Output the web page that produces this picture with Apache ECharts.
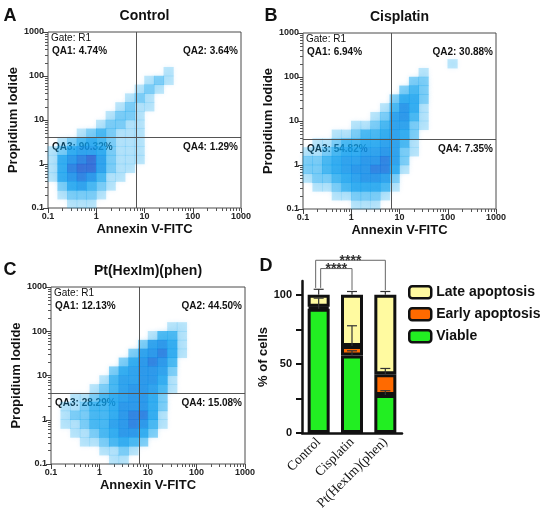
<!DOCTYPE html>
<html>
<head>
<meta charset="utf-8">
<script src="https://cdn.jsdelivr.net/npm/echarts@6/dist/echarts.min.js"></script>
<style>
html, body { margin: 0; padding: 0; background: #fff; }
#main { width: 550px; height: 514px; }
</style>
</head>
<body>
<div id="main"></div>
<script>
// ---- panels A-C : annexin V / PI dot plots ----
var panelTitles = ['Control', 'Cisplatin', 'Pt(HexIm)(phen)'];
var panelLetters = ['A', 'B', 'C'];
var qaControl = [4.74, 3.64, 90.32, 1.29];
var qaCisplatin = [6.94, 30.88, 54.82, 7.35];
var qaPt = [12.13, 44.50, 28.29, 15.08];
var gateX = [6.8, 6.7, 6.6];
var gateY = [4.1, 3.8, 4.0];
var logTicks = [0.1, 1, 10, 100, 1000];

// event density, 0.2-decade cells
// row 0 = PI 10^2.8..10^3, column 0 = annexin 10^-1..10^-0.8, level 0-9
var densityControl = [
  '00000000000000000000',
  '00000000000000000000',
  '00000000000000000000',
  '00000000000000000000',
  '00000000000010000000',
  '00000000001210000000',
  '00000000012100000000',
  '00000000121000000000',
  '00000001211000000000',
  '00000012210000000000',
  '00000122110000000000',
  '00012321110000000000',
  '01234321110000000000',
  '12455421110000000000',
  '14678521110000000000',
  '14788521100000000000',
  '14676311000000000000',
  '02453210000000000000',
  '01222100000000000000',
  '00111000000000000000'
];
var densityCisplatin = [
  '00000000000000000000',
  '00000000000000000000',
  '00000000000000000000',
  '00000000000000010000',
  '00000000000010000000',
  '00000000000220000000',
  '00000000002320000000',
  '00000000024420000000',
  '00000000136410000000',
  '00000001256310000000',
  '00000112355210000000',
  '00011233454200000000',
  '01123344553100000000',
  '11234455652100000000',
  '22345566752000000000',
  '22345667741000000000',
  '12234566520000000000',
  '01123444310000000000',
  '00011222100000000000',
  '00000111000000000000'
];
var densityPt = [
  '00000000000000000000',
  '00000000000000000000',
  '00000000000000000000',
  '00000000000000000000',
  '00000000000011000000',
  '00000000001331000000',
  '00000000025641000000',
  '00000000256741000000',
  '00000002467630000000',
  '00000024566520000000',
  '00000135566410000000',
  '00001235665310000000',
  '00112345664200000000',
  '01123346664200000000',
  '01223346774100000000',
  '01123356763100000000',
  '00112346642000000000',
  '00011234320000000000',
  '00000112100000000000',
  '00000011000000000000'
];

// ---- panel D : stacked percentages ----
var groups = ['Control', 'Cisplatin', 'Pt(HexIm)(phen)'];
var viable = [90, 56, 27.5];
var early = [1.3, 7, 15];
var late = [8.7, 37, 57.5];
var viableErr = [7.6, 3.5, 3.1];
var earlyErr = [0, 14.6, 4.2];
var lateErr = [4, 2.4, 2.4];
var barTicks = [0, 25, 50, 75, 100];
var barLabels = [0, 50, 100];
var sigPairs = [[0, 2], [0, 1]];
var sigLevel = [125, 119];

var chart = echarts.init(document.getElementById('main'));

var SANS = '"Liberation Sans", Arial, sans-serif';
var SERIF = '"Liberation Serif", "Times New Roman", serif';
var shade = [null, 'rgba(20,170,240,0.32)', 'rgba(20,168,240,0.6)', 'rgba(16,162,238,0.85)',
  '#14a0ee', '#1094ea', '#0d87e6', '#126edc', '#1a55cf', '#2a3cc0'];

var boxes = [
  {left: 48, top: 32, width: 193, height: 176},
  {left: 303, top: 33, width: 193, height: 176},
  {left: 51, top: 287, width: 194, height: 177}
];
var barBox = {left: 302, top: 281, width: 100, height: 152};
var densities = [densityControl, densityCisplatin, densityPt];
var qaValues = [qaControl, qaCisplatin, qaPt];

var minorTicks = [];
[0.1, 1, 10, 100].forEach(function (d) {
  for (var m = 2; m <= 9; m++) minorTicks.push(d * m);
});

function cells(rows) {
  var out = [];
  rows.forEach(function (row, i) {
    var r = rows.length - 1 - i;
    for (var c = 0; c < row.length; c++) {
      var lv = +row[c];
      if (lv > 0) out.push([Math.pow(10, -0.9 + 0.2 * c), Math.pow(10, -0.9 + 0.2 * r), lv]);
    }
  });
  return out;
}

var grids = [], xAxes = [], yAxes = [], series = [];

boxes.forEach(function (b, k) {
  grids.push({left: b.left, top: b.top, width: b.width, height: b.height,
    show: true, borderColor: '#4a4a4a', borderWidth: 1, backgroundColor: 'transparent'});
});
boxes.forEach(function (b, k) {
  xAxes.push({
    type: 'log', logBase: 10, min: 0.1, max: 1000, gridIndex: k, position: 'bottom',
    name: 'Annexin V-FITC', nameLocation: 'middle', nameGap: 15,
    nameTextStyle: {fontFamily: SANS, fontWeight: 'bold', fontSize: 13, color: '#111'},
    axisLine: {show: false, onZero: false},
    axisTick: {length: 5, customValues: logTicks, lineStyle: {color: '#444'}},
    axisLabel: {customValues: logTicks, margin: 4, fontFamily: SANS, fontWeight: 'bold', fontSize: 9, color: '#222',
      formatter: function (v) { return String(+v.toPrecision(3)); }},
    splitLine: {show: false}
  });
  yAxes.push({
    type: 'log', logBase: 10, min: 0.1, max: 1000, gridIndex: k, position: 'left',
    name: 'Propidium Iodide', nameLocation: 'middle', nameGap: 25,
    nameTextStyle: {fontFamily: SANS, fontWeight: 'bold', fontSize: 13, color: '#111'},
    axisLine: {show: false, onZero: false},
    axisTick: {length: 5, customValues: logTicks, lineStyle: {color: '#444'}},
    axisLabel: {customValues: logTicks, margin: 4, fontFamily: SANS, fontWeight: 'bold', fontSize: 9, color: '#222',
      formatter: function (v) { return String(+v.toPrecision(3)); }},
    splitLine: {show: false}
  });
});
boxes.forEach(function (b, k) {
  xAxes.push({
    type: 'log', logBase: 10, min: 0.1, max: 1000, gridIndex: k, position: 'bottom',
    axisLine: {show: false, onZero: false},
    axisTick: {length: 3, customValues: minorTicks, lineStyle: {color: '#555'}},
    axisLabel: {show: false}, splitLine: {show: false}
  });
  yAxes.push({
    type: 'log', logBase: 10, min: 0.1, max: 1000, gridIndex: k, position: 'left',
    axisLine: {show: false, onZero: false},
    axisTick: {length: 3, customValues: minorTicks, lineStyle: {color: '#555'}},
    axisLabel: {show: false}, splitLine: {show: false}
  });
});

boxes.forEach(function (b, k) {
  series.push({
    type: 'scatter', xAxisIndex: k, yAxisIndex: k,
    data: cells(densities[k]),
    symbol: 'rect',
    symbolSize: [b.width / 20 + 0.5, b.height / 20 + 0.5],
    itemStyle: {
      color: function (p) { return shade[p.data[2]]; },
      shadowBlur: 5, shadowColor: 'rgba(20,160,240,0.35)'
    },
    silent: true, animation: false,
    markLine: {
      silent: true, symbol: 'none', animation: false,
      label: {show: false},
      lineStyle: {color: '#555', width: 1, type: 'solid'},
      data: [{xAxis: gateX[k]}, {yAxis: gateY[k]}]
    }
  });
});

// panel D grid and axes
grids.push({left: barBox.left, top: barBox.top, width: barBox.width, height: barBox.height});
xAxes.push({
  type: 'category', gridIndex: 3, data: groups,
  axisLine: {lineStyle: {color: '#111', width: 2.5}},
  axisTick: {show: false},
  axisLabel: {rotate: 45, margin: 7, fontFamily: SERIF, fontSize: 13.5, color: '#111', interval: 0}
});
yAxes.push({
  type: 'value', gridIndex: 3, min: 0, max: 110,
  name: '% of cells', nameLocation: 'middle', nameGap: 26,
  nameTextStyle: {fontFamily: SANS, fontWeight: 'bold', fontSize: 13, color: '#111'},
  axisLine: {show: true, lineStyle: {color: '#111', width: 2.5}},
  axisTick: {show: true, length: 6, customValues: barTicks, lineStyle: {color: '#111', width: 2}},
  axisLabel: {customValues: barLabels, margin: 10, fontFamily: SANS, fontWeight: 'bold', fontSize: 11, color: '#111'},
  splitLine: {show: false}
});

var segStyle = {borderColor: '#111', borderWidth: 3};
series.push(
  {name: 'Viable', type: 'bar', stack: 'pct', xAxisIndex: 6, yAxisIndex: 6, data: viable, barWidth: 22,
    itemStyle: Object.assign({color: '#22ee22'}, segStyle), animation: false},
  {name: 'Early apoptosis', type: 'bar', stack: 'pct', xAxisIndex: 6, yAxisIndex: 6, data: early, barWidth: 22,
    itemStyle: Object.assign({color: '#ff6a00'}, segStyle), animation: false},
  {name: 'Late apoptosis', type: 'bar', stack: 'pct', xAxisIndex: 6, yAxisIndex: 6, data: late, barWidth: 22,
    itemStyle: Object.assign({color: '#fffaa0'}, segStyle), animation: false}
);

// error bars, drawn upward from each segment top
var errData = [];
var barTop = [];
groups.forEach(function (g, i) {
  var t0 = viable[i], t1 = t0 + early[i], t2 = t1 + late[i];
  errData.push([i, t0, t0 + viableErr[i]]);
  errData.push([i, t1, t1 + earlyErr[i]]);
  errData.push([i, t2, t2 + lateErr[i]]);
  barTop.push(t2 + lateErr[i]);
});
series.push({
  type: 'custom', xAxisIndex: 6, yAxisIndex: 6, data: errData, z: 5, silent: true, animation: false,
  encode: {x: 0, y: [1, 2]},
  renderItem: function (params, api) {
    if (api.value(2) <= api.value(1)) return null;
    var a = api.coord([api.value(0), api.value(1)]);
    var b = api.coord([api.value(0), api.value(2)]);
    var st = {stroke: '#333', lineWidth: 1.2};
    return {type: 'group', children: [
      {type: 'line', shape: {x1: a[0], y1: a[1], x2: b[0], y2: b[1]}, style: st},
      {type: 'line', shape: {x1: b[0] - 5, y1: b[1], x2: b[0] + 5, y2: b[1]}, style: st}
    ]};
  }
});

// significance brackets
series.push({
  type: 'custom', xAxisIndex: 6, yAxisIndex: 6, z: 5, silent: true, animation: false, clip: false,
  data: sigPairs.map(function (p, k) { return [p[0], p[1], sigLevel[k], k]; }),
  encode: {x: [0, 1], y: 2},
  renderItem: function (params, api) {
    var i0 = api.value(0), i1 = api.value(1), lvl = api.value(2), k = api.value(3);
    var shift = k === 0 ? -3 : 2;
    var top = api.coord([i0, lvl]);
    var l = api.coord([i0, barTop[i0] + 1]);
    var r = api.coord([i1, barTop[i1] + 1]);
    var xl = l[0] + shift, xr = r[0];
    var st = {stroke: '#666', lineWidth: 1};
    return {type: 'group', children: [
      {type: 'polyline', shape: {points: [[xl, l[1]], [xl, top[1]], [xr, top[1]], [xr, r[1]]]}, style: Object.assign({fill: null}, st)},
      {type: 'text', style: {text: '****', x: (xl + xr) / 2, y: top[1] + 1, align: 'center', verticalAlign: 'middle',
        font: 'bold 14px ' + SANS, fill: '#333'}}
    ]};
  }
});

var option = {
  backgroundColor: '#fff',
  animation: false,
  grid: grids,
  xAxis: xAxes,
  yAxis: yAxes,
  legend: {
    data: ['Late apoptosis', 'Early apoptosis', 'Viable'],
    orient: 'vertical', left: 408, top: 285, padding: 0,
    itemWidth: 22, itemHeight: 12, itemGap: 7.5, itemTextGap: 6,
    selectedMode: false,
    itemStyle: {borderColor: '#111', borderWidth: 2.5},
    textStyle: {fontFamily: SANS, fontWeight: 'bold', fontSize: 14, color: '#111', lineHeight: 12}
  },
  series: series
};
chart.setOption(option);

// texts positioned from the grid layout and the gate coordinates
var texts = [];
boxes.forEach(function (b, k) {
  var qa = qaValues[k];
  var gy = chart.convertToPixel({yAxisIndex: k}, gateY[k]);
  var right = b.left + b.width;
  var bold = 'bold 10px ' + SANS;
  texts.push(
    {type: 'text', style: {text: panelTitles[k], x: b.left + b.width / 2, y: b.top - 16, align: 'center', verticalAlign: 'middle', font: 'bold 14px ' + SANS, fill: '#111'}},
    {type: 'text', style: {text: 'Gate: R1', x: b.left + 3, y: b.top + 6, verticalAlign: 'middle', font: '10px ' + SANS, fill: '#111'}},
    {type: 'text', style: {text: 'QA1: ' + qa[0].toFixed(2) + '%', x: b.left + 4, y: b.top + 19, verticalAlign: 'middle', font: bold, fill: '#111'}},
    {type: 'text', style: {text: 'QA2: ' + qa[1].toFixed(2) + '%', x: right - 3, y: b.top + 19, align: 'right', verticalAlign: 'middle', font: bold, fill: '#111'}},
    {type: 'text', style: {text: 'QA3: ' + qa[2].toFixed(2) + '%', x: b.left + 4, y: gy + 10, verticalAlign: 'middle', font: bold, fill: '#111'}},
    {type: 'text', style: {text: 'QA4: ' + qa[3].toFixed(2) + '%', x: right - 3, y: gy + 10, align: 'right', verticalAlign: 'middle', font: bold, fill: '#111'}}
  );
});
var letterPos = [[10, 16], [271, 16], [10, 270], [266, 266]];
panelLetters.concat(['D']).forEach(function (t, i) {
  texts.push({type: 'text', style: {text: t, x: letterPos[i][0], y: letterPos[i][1], align: 'center', verticalAlign: 'middle', font: 'bold 18px ' + SANS, fill: '#111'}});
});
chart.setOption({graphic: texts});
</script>
</body>
</html>
